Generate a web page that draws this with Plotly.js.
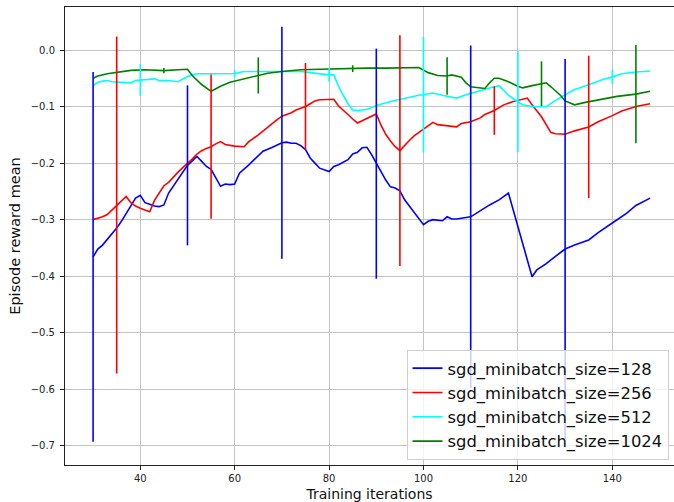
<!DOCTYPE html>
<html>
<head>
<meta charset="utf-8">
<script src="https://cdn.plot.ly/plotly-3.0.1.min.js"></script>
<style>
  html, body { margin: 0; padding: 0; background: #ffffff; }
  #chart { width: 674px; height: 502px; }
</style>
</head>
<body>
<div id="chart"></div>
<script>
// Episode reward mean per training iteration, one series per SGD minibatch size.
const seriesNames = [
  'sgd_minibatch_size=128',
  'sgd_minibatch_size=256',
  'sgd_minibatch_size=512',
  'sgd_minibatch_size=1024'
];

const iters128 = [30,31,32,34,35,36,37,38,39,40,41,42,43,44,45,46,47,48,49,50,51,52,53,54,55,56,57,58,59,60,61,63,65,66,68,70,71,72,73,74,75,76,77,78,80,81,82,84,85,86,87,88,89,90,91,92,93,94,95,96,97,98,99,100,101,102,104,105,106,107,110,112,114,116,118,123,124,126,127,130,132,135,137,140,143,145,148];
const reward128 = [-0.366,-0.352,-0.345,-0.326,-0.315,-0.303,-0.289,-0.274,-0.262,-0.257,-0.270,-0.273,-0.276,-0.277,-0.274,-0.253,-0.241,-0.230,-0.218,-0.204,-0.196,-0.188,-0.197,-0.206,-0.211,-0.227,-0.241,-0.237,-0.238,-0.237,-0.218,-0.203,-0.188,-0.179,-0.172,-0.164,-0.163,-0.165,-0.165,-0.169,-0.176,-0.191,-0.200,-0.209,-0.215,-0.206,-0.203,-0.194,-0.184,-0.181,-0.173,-0.172,-0.185,-0.201,-0.215,-0.230,-0.242,-0.244,-0.249,-0.265,-0.276,-0.289,-0.300,-0.309,-0.303,-0.300,-0.302,-0.295,-0.299,-0.299,-0.295,-0.284,-0.274,-0.265,-0.253,-0.401,-0.389,-0.378,-0.371,-0.352,-0.345,-0.336,-0.323,-0.306,-0.289,-0.275,-0.262];

const iters256 = [30,31,32,33,34,35,36,37,38,39,40,41,42,43,44,45,46,47,48,49,50,51,52,53,54,55,56,57,58,59,60,62,63,65,67,68,69,70,72,73,74,75,76,77,78,79,81,82,83,84,85,86,87,88,89,90,91,92,93,94,95,96,97,98,99,100,101,102,103,105,107,108,110,112,113,115,117,119,120,122,123,125,127,128,130,132,135,137,140,142,145,148];
const reward256 = [-0.300,-0.298,-0.295,-0.291,-0.283,-0.274,-0.266,-0.259,-0.270,-0.276,-0.280,-0.283,-0.286,-0.266,-0.253,-0.240,-0.234,-0.224,-0.216,-0.208,-0.201,-0.193,-0.184,-0.178,-0.174,-0.171,-0.166,-0.162,-0.167,-0.169,-0.170,-0.171,-0.162,-0.150,-0.136,-0.129,-0.123,-0.117,-0.111,-0.106,-0.103,-0.100,-0.095,-0.090,-0.088,-0.088,-0.087,-0.099,-0.106,-0.114,-0.122,-0.129,-0.125,-0.121,-0.117,-0.113,-0.133,-0.149,-0.161,-0.171,-0.178,-0.168,-0.160,-0.152,-0.146,-0.139,-0.133,-0.128,-0.132,-0.134,-0.136,-0.130,-0.127,-0.120,-0.114,-0.107,-0.097,-0.091,-0.089,-0.085,-0.097,-0.118,-0.146,-0.148,-0.149,-0.143,-0.136,-0.127,-0.116,-0.108,-0.100,-0.095];

const iters512 = [30,31,32,33,34,36,38,39,40,41,43,44,46,48,49,50,51,52,55,57,60,62,65,68,71,74,76,79,80,81,82,83,84,85,86,88,90,93,96,99,100,102,104,107,109,112,114,116,118,120,121,123,126,128,130,132,133,135,138,140,142,145,148];
const reward512 = [-0.063,-0.057,-0.055,-0.054,-0.056,-0.057,-0.058,-0.054,-0.053,-0.053,-0.051,-0.054,-0.054,-0.056,-0.051,-0.047,-0.044,-0.042,-0.042,-0.042,-0.0415,-0.038,-0.038,-0.039,-0.038,-0.038,-0.040,-0.044,-0.044,-0.044,-0.064,-0.080,-0.095,-0.106,-0.107,-0.105,-0.098,-0.091,-0.085,-0.080,-0.079,-0.076,-0.080,-0.085,-0.079,-0.071,-0.067,-0.063,-0.080,-0.0915,-0.097,-0.100,-0.100,-0.089,-0.079,-0.070,-0.067,-0.061,-0.052,-0.0475,-0.042,-0.039,-0.037];

const iters1024 = [30,31,33,36,38,41,45,48,50,51,53,55,57,59,61,63,65,67,70,74,78,82,85,88,92,96,99,101,103,105,106,108,109,110,112,113,114,115,116,118,120,121,123,125,126,127,129,130,132,134,137,141,145,148];
const reward1024 = [-0.050,-0.046,-0.042,-0.038,-0.036,-0.035,-0.0365,-0.035,-0.034,-0.045,-0.061,-0.073,-0.064,-0.057,-0.053,-0.048,-0.045,-0.041,-0.038,-0.035,-0.034,-0.033,-0.033,-0.032,-0.032,-0.031,-0.031,-0.040,-0.045,-0.046,-0.044,-0.048,-0.058,-0.065,-0.067,-0.068,-0.058,-0.050,-0.050,-0.056,-0.064,-0.067,-0.063,-0.0595,-0.058,-0.065,-0.080,-0.090,-0.097,-0.093,-0.088,-0.082,-0.078,-0.073];

// Spread (one standard deviation) sampled every 20 iterations, staggered per series.
const errIters128 = [30, 50, 70, 90, 110, 130];
const errSpread128 = [0.327, 0.1415, 0.205, 0.2035, 0.303, 0.336];
const errIters256 = [35, 55, 75, 95, 115, 135];
const errSpread256 = [0.298, 0.1275, 0.077, 0.204, 0.043, 0.126];
const errIters512 = [40, 60, 80, 100, 120, 140];
const errSpread512 = [0.028, 0.0065, 0.012, 0.102, 0.0895, 0.0125];
const errIters1024 = [45, 65, 85, 105, 125, 145];
const errSpread1024 = [0.0045, 0.032, 0.006, 0.033, 0.0395, 0.087];

const xTicks = [40, 60, 80, 100, 120, 140];
const yTicks = [0.0, -0.1, -0.2, -0.3, -0.4, -0.5, -0.6, -0.7];

const colors = ['#0000ff', '#ff0000', '#00ffff', '#008000'];
const allIters = [iters128, iters256, iters512, iters1024];
const allRewards = [reward128, reward256, reward512, reward1024];
const allErrIters = [errIters128, errIters256, errIters512, errIters1024];
const allErrSpread = [errSpread128, errSpread256, errSpread512, errSpread1024];

const FONT = 'DejaVu Sans, Liberation Sans, sans-serif';

const traces = [];
// mean curves
seriesNames.forEach((name, i) => {
  traces.push({
    type: 'scatter',
    mode: 'lines',
    name: name,
    x: allIters[i],
    y: allRewards[i],
    line: { color: colors[i], width: 1.6 },
    hoverinfo: 'skip'
  });
});
// error bars centred on the curve value at each sampled iteration
seriesNames.forEach((name, i) => {
  const xs = allErrIters[i];
  const ys = xs.map(x => allRewards[i][allIters[i].indexOf(x)]);
  traces.push({
    type: 'scatter',
    mode: 'markers',
    showlegend: false,
    x: xs,
    y: ys,
    marker: { size: 0.1, color: 'rgba(0,0,0,0)' },
    error_y: {
      type: 'data',
      array: allErrSpread[i],
      symmetric: true,
      color: colors[i],
      thickness: 1.6,
      width: 0
    },
    hoverinfo: 'skip'
  });
});

const layout = {
  width: 674,
  height: 502,
  margin: { l: 65, r: 0, t: 7, b: 37 },
  paper_bgcolor: '#ffffff',
  plot_bgcolor: '#ffffff',
  font: { family: FONT, color: '#222222' },
  showlegend: true,
  xaxis: {
    range: [24.05, 153.07],
    tickvals: xTicks,
    ticktext: xTicks.map(String),
    showgrid: true,
    gridcolor: '#c4c4c4',
    gridwidth: 1,
    zeroline: false,
    showline: true,
    linecolor: '#222222',
    linewidth: 1,
    mirror: true,
    ticks: 'outside',
    ticklen: 4,
    tickwidth: 1,
    tickcolor: '#222222',
    tickfont: { family: FONT, size: 10, color: '#222222' },
    title: { text: 'Training iterations', font: { family: FONT, size: 14, color: '#111111' }, standoff: 8 }
  },
  yaxis: {
    range: [-0.734, 0.0761],
    tickvals: yTicks,
    ticktext: yTicks.map(v => v.toFixed(1).replace('-', '\u2212')),
    showgrid: true,
    gridcolor: '#c4c4c4',
    gridwidth: 1,
    zeroline: false,
    showline: true,
    linecolor: '#222222',
    linewidth: 1,
    mirror: false,
    ticks: 'outside',
    ticklen: 4,
    tickwidth: 1,
    tickcolor: '#222222',
    ticklabelstandoff: 3,
    tickfont: { family: FONT, size: 10, color: '#222222' },
    title: { text: 'Episode reward mean', font: { family: FONT, size: 14.5, color: '#111111' }, standoff: 6 }
  },
  legend: {
    x: 0.991,
    y: 0.011,
    xanchor: 'right',
    yanchor: 'bottom',
    bgcolor: 'rgba(255,255,255,0.8)',
    bordercolor: '#d0d0d0',
    borderwidth: 1,
    font: { family: FONT, size: 16.4, color: '#111111' },
    itemwidth: 30
  }
};

Plotly.newPlot('chart', traces, layout, { displayModeBar: false, staticPlot: true });
</script>
</body>
</html>
